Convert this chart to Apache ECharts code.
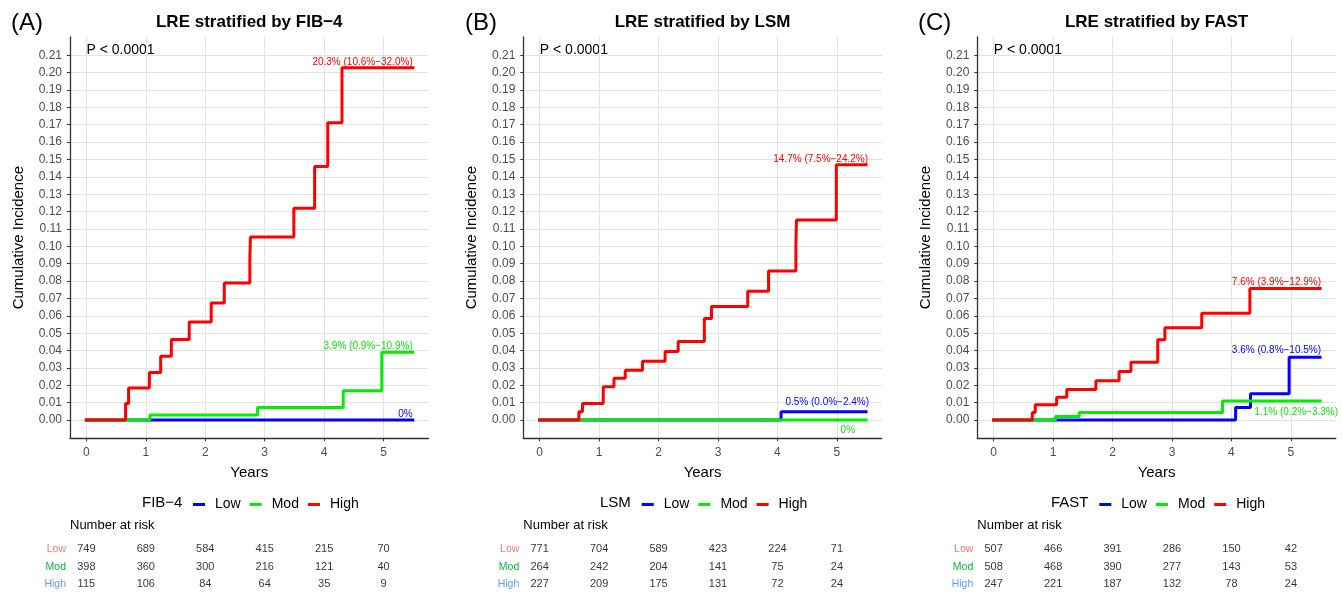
<!DOCTYPE html>
<html>
<head>
<meta charset="utf-8">
<script src="https://cdn.jsdelivr.net/npm/echarts@6/dist/echarts.min.js"></script>
<style>
html,body{margin:0;padding:0;background:#fff;}
#chart{width:1342px;height:593px;}
</style>
</head>
<body>
<div id="chart"></div>
<script>
// ---------- DATA ----------
const xTicks = [0, 1, 2, 3, 4, 5];
const yTicks = [0, 0.01, 0.02, 0.03, 0.04, 0.05, 0.06, 0.07, 0.08, 0.09, 0.10, 0.11,
                0.12, 0.13, 0.14, 0.15, 0.16, 0.17, 0.18, 0.19, 0.20, 0.21];
const groups = ['Low', 'Mod', 'High'];

// Panel A: FIB-4 (years, cumulative incidence)
const fib4Low  = [[0, 0], [5.49, 0]];
const fib4Mod  = [[0, 0], [1.07, 0.0029], [2.88, 0.0073], [4.32, 0.0168], [4.97, 0.039], [5.49, 0.039]];
const fib4High = [[0, 0], [0.66, 0.0096], [0.71, 0.0184], [1.06, 0.0274], [1.25, 0.0368], [1.43, 0.0464],
                  [1.73, 0.0565], [2.10, 0.0674], [2.32, 0.0789], [2.75, 0.092], [2.76, 0.1054],
                  [3.49, 0.1219], [3.84, 0.1459], [4.06, 0.1711], [4.30, 0.2028], [5.49, 0.2028]];
const fib4EndText = ['0%', '3.9% (0.9%−10.9%)', '20.3% (10.6%−32.0%)'];
const fib4RiskLow  = [749, 689, 584, 415, 215, 70];
const fib4RiskMod  = [398, 360, 300, 216, 121, 40];
const fib4RiskHigh = [115, 106, 84, 64, 35, 9];

// Panel B: LSM
const lsmLow  = [[0, 0], [4.06, 0.0048], [5.49, 0.0048]];
const lsmMod  = [[0, 0], [5.49, 0]];
const lsmHigh = [[0, 0], [0.66, 0.0048], [0.72, 0.0096], [1.07, 0.0192], [1.25, 0.024], [1.44, 0.0287],
                 [1.73, 0.0339], [2.11, 0.0395], [2.33, 0.0452], [2.77, 0.0584], [2.89, 0.0653],
                 [3.50, 0.0741], [3.85, 0.0858], [4.31, 0.1005], [4.32, 0.1152], [4.99, 0.147], [5.49, 0.147]];
const lsmEndText = ['0.5% (0.0%−2.4%)', '0%', '14.7% (7.5%−24.2%)'];
const lsmRiskLow  = [771, 704, 589, 423, 224, 71];
const lsmRiskMod  = [264, 242, 204, 141, 75, 24];
const lsmRiskHigh = [227, 209, 175, 131, 72, 24];

// Panel C: FAST
const fastLow  = [[0, 0], [4.07, 0.0073], [4.32, 0.0151], [4.97, 0.0362], [5.49, 0.0362]];
const fastMod  = [[0, 0], [1.04, 0.0021], [1.44, 0.0044], [3.85, 0.0109], [5.49, 0.0109]];
const fastHigh = [[0, 0], [0.65, 0.0044], [0.70, 0.0088], [1.06, 0.0132], [1.23, 0.0176], [1.72, 0.0226],
                  [2.11, 0.028], [2.31, 0.0333], [2.76, 0.0462], [2.88, 0.0531], [3.50, 0.0615],
                  [4.31, 0.0757], [5.49, 0.0757]];
const fastEndText = ['3.6% (0.8%−10.5%)', '1.1% (0.2%−3.3%)', '7.6% (3.9%−12.9%)'];
const fastRiskLow  = [507, 466, 391, 286, 150, 42];
const fastRiskMod  = [508, 468, 390, 277, 143, 53];
const fastRiskHigh = [247, 221, 187, 132, 78, 24];

// ---------- LAYOUT / STYLE ----------
const FONT = '"Liberation Sans", Arial, Helvetica, sans-serif';
const colors = ['#0000ff', '#00ee00', '#ff0000'];
const riskLabelColors = ['#f8766d', '#00ba38', '#619cff'];
const plotTop = 37, plotHeight = 401.3, plotWidth = 358.5;
const panels = [
  { left: 70,    letterX: 11,  letter: '(A)', title: 'LRE stratified by FIB−4', legendTitle: 'FIB−4',
    legendTitleX: 142, legendX: 193,
    curves: [fib4Low, fib4Mod, fib4High], endText: fib4EndText,
    labelOffsets: [[0, -6], [0, -6], [0, -5]],
    risk: [fib4RiskLow, fib4RiskMod, fib4RiskHigh] },
  { left: 523.3, letterX: 465, letter: '(B)', title: 'LRE stratified by LSM', legendTitle: 'LSM',
    legendTitleX: 600, legendX: 641.7,
    curves: [lsmLow, lsmMod, lsmHigh], endText: lsmEndText,
    labelOffsets: [[3, -9], [-11, 10], [2, -5]],
    risk: [lsmRiskLow, lsmRiskMod, lsmRiskHigh] },
  { left: 977.3, letterX: 918, letter: '(C)', title: 'LRE stratified by FAST', legendTitle: 'FAST',
    legendTitleX: 1051, legendX: 1099.3,
    curves: [fastLow, fastMod, fastHigh], endText: fastEndText,
    labelOffsets: [[1, -7], [18, 11], [1, -6]],
    risk: [fastRiskLow, fastRiskMod, fastRiskHigh] }
];

const grid = [], xAxis = [], yAxis = [], series = [], legend = [], graphic = [];

panels.forEach((p, i) => {
  grid.push({ left: p.left, top: plotTop, width: plotWidth, height: plotHeight, containLabel: false });
  grid.push({ left: p.left, top: 540.5, width: plotWidth, height: 57, containLabel: false });
  const gMain = i * 2, gRisk = i * 2 + 1;

  xAxis.push({
    type: 'value', gridIndex: gMain, min: -0.275, max: 5.755,
    name: 'Years', nameLocation: 'middle', nameGap: 27,
    nameTextStyle: { fontFamily: FONT, fontSize: 15, color: '#000' },
    axisLine: { show: true, onZero: false, lineStyle: { color: '#333', width: 1.3 } },
    axisTick: { show: true, length: 3, customValues: xTicks, lineStyle: { color: '#333' } },
    axisLabel: { customValues: xTicks, margin: 8, fontFamily: FONT, fontSize: 12, color: '#4d4d4d',
                 formatter: v => String(v) },
    splitLine: { show: true, lineStyle: { color: '#e3e3e3', width: 1 } }
  });
  yAxis.push({
    type: 'value', gridIndex: gMain, min: -0.0105, max: 0.2205,
    name: 'Cumulative Incidence', nameLocation: 'middle', nameGap: 44, nameRotate: 90,
    nameTextStyle: { fontFamily: FONT, fontSize: 15, color: '#000' },
    axisLine: { show: true, onZero: false, lineStyle: { color: '#333', width: 1.3 } },
    axisTick: { show: true, length: 3, customValues: yTicks, lineStyle: { color: '#333' } },
    axisLabel: { customValues: yTicks, margin: 8, fontFamily: FONT, fontSize: 12, color: '#4d4d4d',
                 formatter: v => v.toFixed(2) },
    splitLine: { show: true, lineStyle: { color: '#e3e3e3', width: 1 } }
  });
  xAxis.push({ type: 'value', gridIndex: gRisk, min: -0.275, max: 5.755, show: false });
  yAxis.push({
    type: 'category', gridIndex: gRisk, data: groups, inverse: true,
    axisLine: { show: false }, axisTick: { show: false }, splitLine: { show: false },
    axisLabel: { margin: 4, fontFamily: FONT, fontSize: 10.5,
                 color: (v) => riskLabelColors[groups.indexOf(v)] }
  });

  p.curves.forEach((data, k) => {
    series.push({
      type: 'line', name: groups[k], data: data, xAxisIndex: gMain, yAxisIndex: gMain,
      step: 'end', symbol: 'none', showSymbol: false, color: colors[k],
      lineStyle: { width: 3, color: colors[k], cap: 'square' }, z: 3 + k, silent: true,
      endLabel: {
        show: true, formatter: () => p.endText[k], color: colors[k], fontFamily: FONT, fontSize: 10,
        align: 'right', verticalAlign: 'middle', distance: 0, offset: p.labelOffsets[k]
      }
    });
  });

  p.risk.forEach((vals, k) => {
    series.push({
      type: 'scatter', name: 'risk' + i + k, xAxisIndex: gRisk, yAxisIndex: gRisk,
      symbolSize: 1, itemStyle: { color: 'rgba(0,0,0,0)' }, silent: true,
      data: xTicks.map((t, j) => [t, groups[k], vals[j]]),
      label: { show: true, position: 'inside', formatter: q => String(q.value[2]),
               fontFamily: FONT, fontSize: 11, color: '#000' }
    });
  });

  legend.push({
    data: groups, left: p.legendX, top: 497.5, padding: 0, orient: 'horizontal',
    icon: 'rect', itemWidth: 12, itemHeight: 3, itemGap: 9, selectedMode: false,
    textStyle: { fontFamily: FONT, fontSize: 14, color: '#000', padding: [0, 0, 0, 5] }
  });

  const cx = p.left + plotWidth / 2;
  graphic.push(
    { type: 'text', x: p.letterX, y: 23, style: { text: p.letter, fontFamily: FONT, fontSize: 24,
      fill: '#000', align: 'left', verticalAlign: 'middle' } },
    { type: 'text', x: cx, y: 22, style: { text: p.title, fontFamily: FONT, fontSize: 17, fontWeight: 'bold',
      fill: '#000', align: 'center', verticalAlign: 'middle' } },
    { type: 'text', x: p.left + 16.5, y: 50, style: { text: 'P < 0.0001', fontFamily: FONT, fontSize: 14,
      fill: '#000', align: 'left', verticalAlign: 'middle' } },
    { type: 'text', x: p.legendTitleX, y: 503, style: { text: p.legendTitle, fontFamily: FONT, fontSize: 15,
      fill: '#000', align: 'left', verticalAlign: 'middle' } },
    { type: 'text', x: p.left, y: 525, style: { text: 'Number at risk', fontFamily: FONT, fontSize: 13,
      fill: '#000', align: 'left', verticalAlign: 'middle' } }
  );
});

const chart = echarts.init(document.getElementById('chart'), null, { renderer: 'canvas' });
chart.setOption({
  animation: false,
  backgroundColor: '#fff',
  textStyle: { fontFamily: FONT },
  grid, xAxis, yAxis, series, legend, graphic
});
</script>
</body>
</html>
